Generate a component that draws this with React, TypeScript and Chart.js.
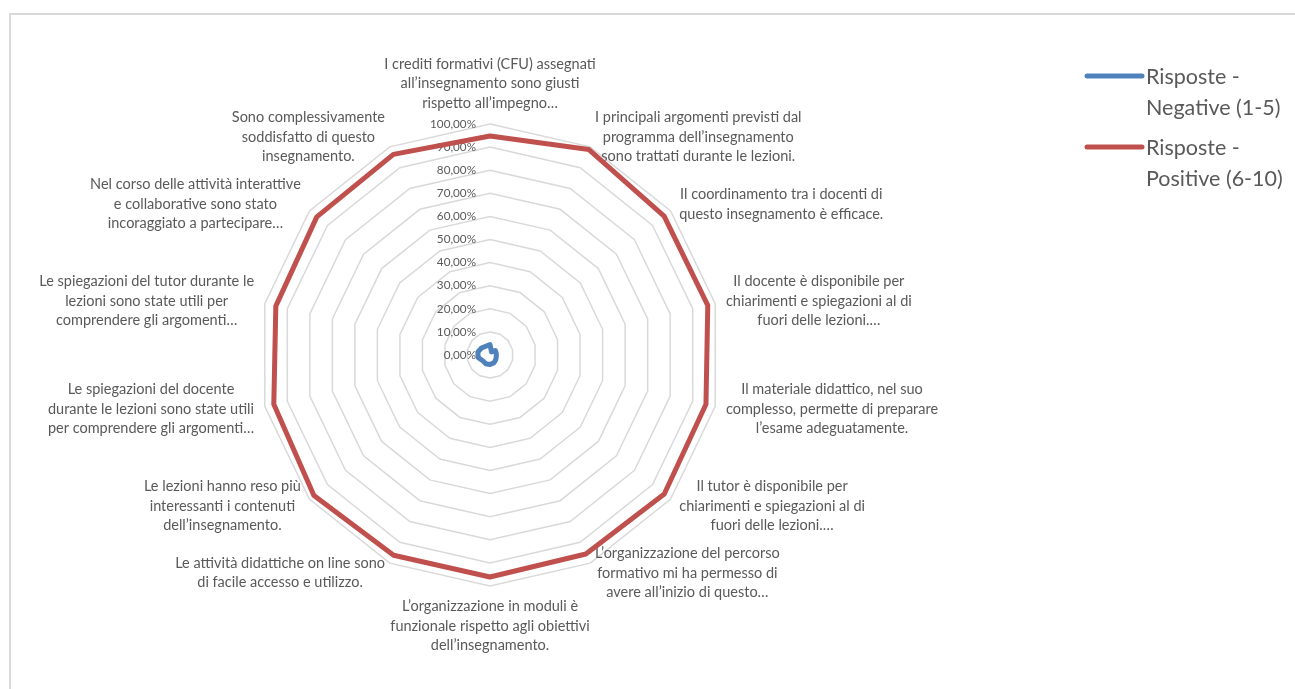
import React, { useEffect, useRef } from "react";
import { Chart, registerables } from "chart.js";

Chart.register(...registerables);

const CATEGORIES: string[][] = [
  ["I crediti formativi (CFU) assegnati", "all’insegnamento sono giusti", "rispetto all’impegno…"],
  ["I principali argomenti previsti dal", "programma dell’insegnamento", "sono trattati durante le lezioni."],
  ["Il coordinamento tra i docenti di", "questo insegnamento è efficace."],
  ["Il docente è disponibile per", "chiarimenti e spiegazioni al di", "fuori delle lezioni.…"],
  ["Il materiale didattico, nel suo", "complesso, permette di preparare", "l’esame adeguatamente."],
  ["Il tutor è disponibile per", "chiarimenti e spiegazioni al di", "fuori delle lezioni.…"],
  ["L’organizzazione del percorso", "formativo mi ha permesso di", "avere all’inizio di questo…"],
  ["L’organizzazione in moduli è", "funzionale rispetto agli obiettivi", "dell’insegnamento."],
  ["Le attività didattiche on line sono", "di facile accesso e utilizzo."],
  ["Le lezioni hanno reso più", "interessanti i contenuti", "dell’insegnamento."],
  ["Le spiegazioni del docente", "durante le lezioni sono state utili", "per comprendere gli argomenti…"],
  ["Le spiegazioni del tutor durante le", "lezioni sono state utili per", "comprendere gli argomenti…"],
  ["Nel corso delle attività interattive", "e collaborative sono stato", "incoraggiato a partecipare…"],
  ["Sono complessivamente", "soddisfatto di questo", "insegnamento."],
];

const NEGATIVE = [4.5, 1.5, 3.0, 2.8, 2.8, 3.2, 3.8, 4.1, 4.2, 4.0, 5.2, 5.4, 4.8, 4.2];
const POSITIVE = [94.8, 98.7, 96.4, 96.7, 95.9, 96.5, 95.6, 96.1, 96.2, 97.5, 96.0, 95.1, 95.9, 96.4];

const TICK_VALUES = [0, 10, 20, 30, 40, 50, 60, 70, 80, 90, 100];
const TICK_LABELS = ["0,00%", "10,00%", "20,00%", "30,00%", "40,00%", "50,00%", "60,00%", "70,00%", "80,00%", "90,00%", "100,00%"];

const SERIES_NAMES: string[][] = [
  ["Risposte -", "Negative (1-5)"],
  ["Risposte -", "Positive (6-10)"],
];
const SERIES_COLORS = ["#4F81BD", "#C0504D"];

const FONT = "Lato, 'Open Sans', sans-serif";
const TEXT_COLOR = "#595959";

const excelTextPlugin = {
  id: "excelText",
  beforeDatasetsDraw(chart: any) {
    const scale = chart.scales.r;
    const ctx = chart.ctx as CanvasRenderingContext2D;
    ctx.save();
    ctx.fillStyle = TEXT_COLOR;
    // category labels
    ctx.font = `14.5px ${FONT}`;
    ctx.textAlign = "center";
    ctx.textBaseline = "middle";
    const lh = 19.5;
    const R = scale.drawingArea + 11;
    CATEGORIES.forEach((lines, i) => {
      const p = scale.getPointPosition(i, R);
      const a = p.angle + Math.PI / 2;
      const s = Math.sin(a);
      const c = Math.cos(a);
      const w = Math.max(...lines.map((l) => ctx.measureText(l).width));
      const h = lines.length * lh;
      let cx = p.x;
      let cy = p.y;
      if (Math.abs(s) < 0.01) cy -= (c * h) / 2;
      else cx += (Math.sign(s) * w) / 2;
      lines.forEach((l, k) => ctx.fillText(l, cx, cy - h / 2 + lh * (k + 0.5)));
    });
    // tick labels
    ctx.font = `11.7px ${FONT}`;
    ctx.textAlign = "right";
    TICK_VALUES.forEach((v, k) => {
      const y = scale.yCenter - scale.getDistanceFromCenterForValue(v);
      ctx.fillText(TICK_LABELS[k], scale.xCenter - 14, y);
    });
    ctx.restore();
  },
  afterDraw(chart: any) {
    const ctx = chart.ctx as CanvasRenderingContext2D;
    ctx.save();
    const x0 = 1087;
    const lineLen = 55;
    const top = 76;
    const gap = 71;
    const lh = 31;
    ctx.font = `21.5px ${FONT}`;
    ctx.textAlign = "left";
    ctx.textBaseline = "middle";
    SERIES_NAMES.forEach((lines, i) => {
      const y = top + i * gap;
      ctx.strokeStyle = SERIES_COLORS[i];
      ctx.lineWidth = 5;
      ctx.lineCap = "round";
      ctx.beginPath();
      ctx.moveTo(x0, y);
      ctx.lineTo(x0 + lineLen, y);
      ctx.stroke();
      ctx.fillStyle = TEXT_COLOR;
      lines.forEach((l, k) => ctx.fillText(l, x0 + lineLen + 4, y + 1 + k * lh));
    });
    ctx.restore();
  },
};

export default function App() {
  const ref = useRef<HTMLCanvasElement | null>(null);
  useEffect(() => {
    if (!ref.current) return;
    const chart = new Chart(ref.current, {
      type: "radar",
      data: {
        labels: CATEGORIES,
        datasets: [
          {
            label: SERIES_NAMES[0].join(" "),
            data: NEGATIVE,
            borderColor: SERIES_COLORS[0],
            backgroundColor: SERIES_COLORS[0],
            borderWidth: 5,
            pointRadius: 0,
            fill: false,
            borderJoinStyle: "round",
          },
          {
            label: SERIES_NAMES[1].join(" "),
            data: POSITIVE,
            borderColor: SERIES_COLORS[1],
            backgroundColor: SERIES_COLORS[1],
            borderWidth: 5,
            pointRadius: 0,
            fill: false,
            borderJoinStyle: "round",
          },
        ],
      },
      options: {
        animation: false,
        responsive: true,
        maintainAspectRatio: false,
        layout: { padding: { left: 259, top: 124, right: 573, bottom: 102 } },
        plugins: { legend: { display: false }, tooltip: { enabled: false } },
        elements: { line: { tension: 0 } },
        scales: {
          r: {
            min: 0,
            max: 100,
            ticks: { stepSize: 10, display: false },
            grid: { color: "#d9d9d9", lineWidth: 1.5, circular: false },
            angleLines: { display: false },
            pointLabels: { display: false },
          },
        },
      },
      plugins: [excelTextPlugin],
    } as any);
    return () => chart.destroy();
  }, []);

  return (
    <div>
      <div
        style={{
          position: "fixed",
          left: 9,
          top: 13,
          right: -10,
          bottom: -10,
          borderTop: "2px solid #d9d9d9",
          borderLeft: "2px solid #d9d9d9",
        }}
      />
      <div style={{ position: "fixed", left: 0, top: 0, width: 1295, height: 689 }}>
        <canvas ref={ref} />
      </div>
    </div>
  );
}
